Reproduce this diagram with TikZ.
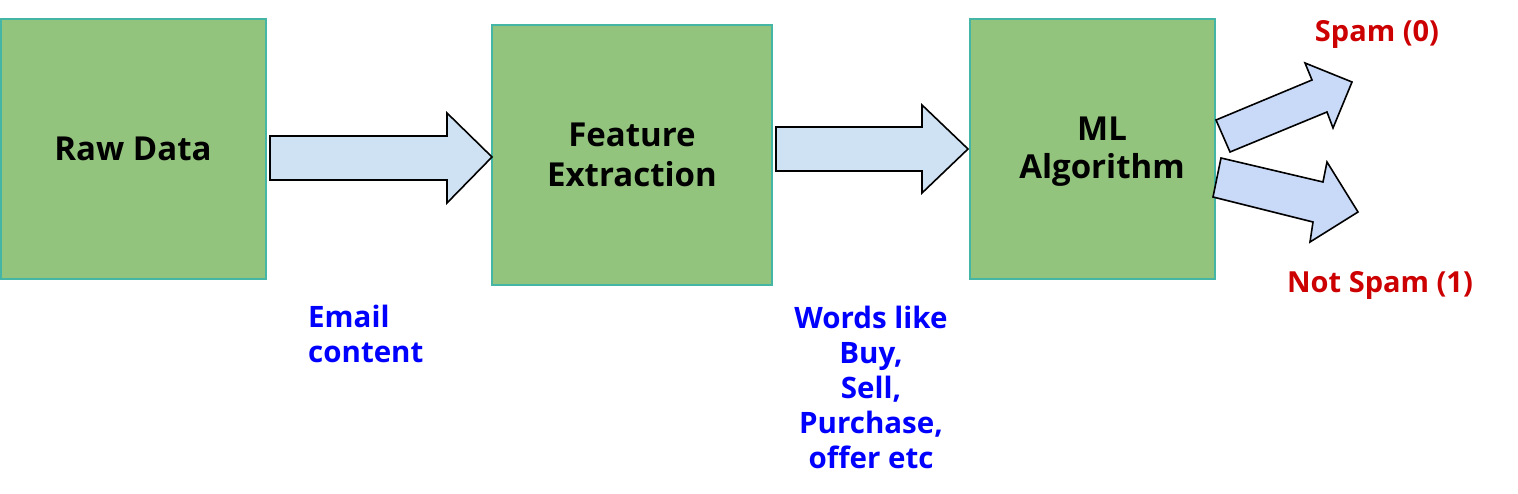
\documentclass[tikz,border=0pt]{standalone}
\usepackage{fontspec}
\setmainfont{Open Sans}
\begin{document}
\begin{tikzpicture}[x=1pt,y=-1pt,
  boxtext/.style={font=\fontsize{33}{40}\selectfont\bfseries,align=center,text=black},
  blk/.style={draw=black,line width=1.6pt,line join=miter},
  lbl/.style={font=\fontsize{29.5}{35}\selectfont\bfseries,text=labelblue},
  res/.style={font=\fontsize{29}{30}\selectfont\bfseries,text=resred}]
\definecolor{boxfill}{HTML}{93C47D}
\definecolor{boxedge}{HTML}{45B5A6}
\definecolor{arrfill}{HTML}{CFE2F3}
\definecolor{arrfill2}{HTML}{C9DAF8}
\definecolor{labelblue}{HTML}{0000FF}
\definecolor{resred}{HTML}{CC0000}
\useasboundingbox (0,0) rectangle (1518,494);
% boxes
\draw[draw=boxedge,fill=boxfill,line width=1.6pt] (1,19) rectangle (266,279);
\draw[draw=boxedge,fill=boxfill,line width=1.6pt] (492,25) rectangle (772,285);
\draw[draw=boxedge,fill=boxfill,line width=1.6pt] (970,19) rectangle (1215,279);
\node[boxtext] (raw) at (133,149) {Raw Data};
\node[boxtext] (feat) at (632,155) {Feature\\Extraction};
\node[boxtext,font=\fontsize{33}{38}\selectfont\bfseries] (ml) at (1102,152) {ML\\Algorithm};
% block arrows
\draw[blk,fill=arrfill] (270,136) -- (447,136) -- (447,113) -- (492,157) -- (447,203) -- (447,180) -- (270,180) -- cycle;
\draw[blk,fill=arrfill] (776,127) -- (922,127) -- (922,105) -- (968,149) -- (922,193) -- (922,171) -- (776,171) -- cycle;
\draw[blk,fill=arrfill2] (1216,120) -- (1312,80) -- (1305,63) -- (1352,82) -- (1333,128) -- (1327,112) -- (1230,152) -- cycle;
\draw[blk,fill=arrfill2] (1221,158) -- (1323,182) -- (1327,162) -- (1358,212) -- (1310,242) -- (1313,222) -- (1213,197) -- cycle;
% labels
\node[lbl,anchor=west,align=left,inner sep=0pt] (email) at (308,334) {Email\\content};
\node[lbl,align=center] (words) at (871,387) {Words like\\Buy,\\Sell,\\Purchase,\\offer etc};
\node[res] (spam) at (1377,34) {Spam (0)};
\node[res] (notspam) at (1380,285) {Not Spam (1)};
\end{tikzpicture}
\end{document}
